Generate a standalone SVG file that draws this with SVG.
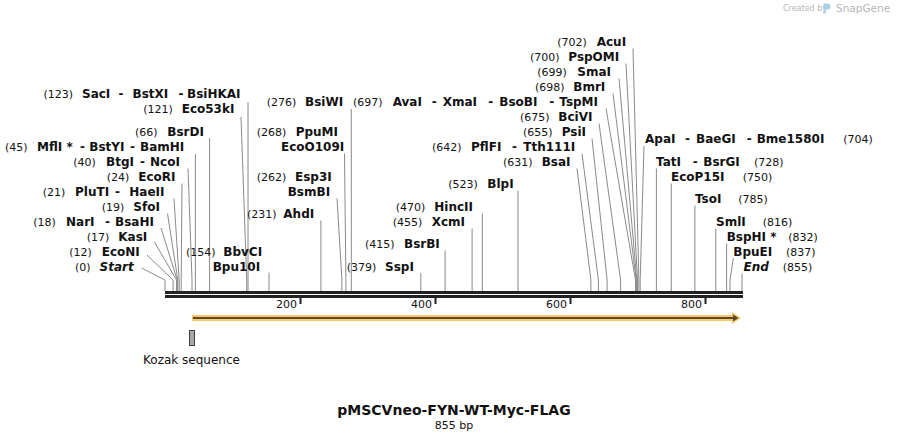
<svg xmlns="http://www.w3.org/2000/svg" width="909" height="441" viewBox="0 0 909 441">
<style>
text{font-family:"DejaVu Sans","Verdana",sans-serif;fill:#111}
.n{font-size:11px;font-weight:normal}
.e{font-size:12px;font-weight:bold}
.ei{font-size:12px;font-weight:bold;font-style:italic}
.c{fill:none;stroke:#8a8a8a;stroke-width:1}
.tk{font-size:11px}
.wm{fill:#b5b5b5}
</style>
<rect width="909" height="441" fill="#fff"/>
<g id="watermark">
<text class="wm" x="783" y="11" font-size="8">Created by</text>
<path d="M823.5,3.5 h4 a3,3 0 0 1 0,6 h-1.5 v4 h-2.5 z" fill="#a9cfe9"/>
<text class="wm" x="836" y="12" font-size="10.5">SnapGene</text>
</g>
<g id="connectors">
<polyline class="c" points="248,102 248,291"/>
<polyline class="c" points="241,117 246.7,280 246.7,291"/>
<polyline class="c" points="209.6,138 209.6,291"/>
<polyline class="c" points="195.4,154 195.4,291"/>
<polyline class="c" points="188,168.5 192,280 192,291"/>
<polyline class="c" points="182,183.5 181.2,280 181.2,291"/>
<polyline class="c" points="174,198.5 179.2,280 179.2,291"/>
<polyline class="c" points="167.5,213.5 177.8,280 177.8,291"/>
<polyline class="c" points="161,228 177.2,280 177.2,291"/>
<polyline class="c" points="154.5,242 176.5,280 176.5,291"/>
<polyline class="c" points="147,255 173.1,280 173.1,291"/>
<polyline class="c" points="141.5,268 165,280 165,291"/>
<polyline class="c" points="269,272.5 269,291"/>
<polyline class="c" points="320.9,220.5 320.9,291"/>
<polyline class="c" points="337,198.5 341.9,280 341.9,291"/>
<polyline class="c" points="344.5,153.5 345.9,280 345.9,291"/>
<polyline class="c" points="351.3,109 351.3,291"/>
<polyline class="c" points="420.8,273 420.8,291"/>
<polyline class="c" points="445.1,250.5 445.1,291"/>
<polyline class="c" points="472.1,228.5 472.1,291"/>
<polyline class="c" points="482.3,213.5 482.3,291"/>
<polyline class="c" points="518,190.5 518,291"/>
<polyline class="c" points="633,48.5 638.9,280 638.9,291"/>
<polyline class="c" points="626,63.5 637.5,280 637.5,291"/>
<polyline class="c" points="619,78.5 636.8,280 636.8,291"/>
<polyline class="c" points="613,93.5 636.2,280 636.2,291"/>
<polyline class="c" points="606,108.5 635.5,280 635.5,291"/>
<polyline class="c" points="599,123.5 620.6,280 620.6,291"/>
<polyline class="c" points="592,138.5 607.1,280 607.1,291"/>
<polyline class="c" points="582,153.5 598.4,280 598.4,291"/>
<polyline class="c" points="577,168.5 590.9,280 590.9,291"/>
<polyline class="c" points="644,146 640.2,280 640.2,291"/>
<polyline class="c" points="656.4,168.5 656.4,291"/>
<polyline class="c" points="671.3,183.5 671.3,291"/>
<polyline class="c" points="694.9,205.5 694.9,291"/>
<polyline class="c" points="715.8,228.5 715.8,291"/>
<polyline class="c" points="726.6,243.5 726.6,291"/>
<polyline class="c" points="733.3,258 730,280 730,291"/>
<polyline class="c" points="742,273.5 742,291"/>
</g>
<g id="sequence">
<rect x="165" y="291" width="578" height="3" fill="#222"/>
<rect x="165" y="295" width="578" height="3" fill="#222"/>
<rect x="299.5" y="298" width="2" height="6" fill="#222"/>
<rect x="434.5" y="298" width="2" height="6" fill="#222"/>
<rect x="569.5" y="298" width="2" height="6" fill="#222"/>
<rect x="704.5" y="298" width="2" height="6" fill="#222"/>
<text class="tk" x="297" y="307.5" text-anchor="end">200</text>
<text class="tk" x="432" y="307.5" text-anchor="end">400</text>
<text class="tk" x="567" y="307.5" text-anchor="end">600</text>
<text class="tk" x="702" y="307.5" text-anchor="end">800</text>
</g>
<g id="feature">
<rect x="192" y="315" width="542" height="6" fill="#f9c86e"/>
<polygon points="732,312 741,318 732,324" fill="#f9c86e"/>
<line x1="193" y1="318" x2="734" y2="318" stroke="#5c4a2a" stroke-width="2"/>
<polygon points="733,314.5 738.5,318 733,321.5" fill="#5c4a2a"/>
</g>
<g id="kozak">
<rect x="189.5" y="330.5" width="5" height="15" fill="#a3a7ab" stroke="#444" stroke-width="1"/>
<text x="191.5" y="364" font-size="12" text-anchor="middle">Kozak sequence</text>
</g>
<g id="SacI"><text y="97.5"><tspan class="n" x="43.5">(123)</tspan><tspan class="e" x="82">SacI</tspan><tspan class="e" x="118.5">-</tspan><tspan class="e" x="132.5">BstXI</tspan><tspan class="e" x="178.5">-</tspan><tspan class="e" x="187">BsiHKAI</tspan></text></g>
<g id="Eco53kI"><text y="112.5"><tspan class="n" x="143.3">(121)</tspan><tspan class="e" x="181.7">Eco53kI</tspan></text></g>
<g id="BsrDI"><text y="135.5"><tspan class="n" x="135">(66)</tspan><tspan class="e" x="167.3">BsrDI</tspan></text></g>
<g id="MflI"><text y="150.5"><tspan class="n" x="5">(45)</tspan><tspan class="e" x="37">MflI *</tspan><tspan class="e" x="80">-</tspan><tspan class="e" x="89.3">BstYI</tspan><tspan class="e" x="130">-</tspan><tspan class="e" x="140">BamHI</tspan></text></g>
<g id="BtgI"><text y="165.5"><tspan class="n" x="73.3">(40)</tspan><tspan class="e" x="106">BtgI</tspan><tspan class="e" x="140">-</tspan><tspan class="e" x="150">NcoI</tspan></text></g>
<g id="EcoRI"><text y="180.5"><tspan class="n" x="106.7">(24)</tspan><tspan class="e" x="138.3">EcoRI</tspan></text></g>
<g id="PluTI"><text y="195.5"><tspan class="n" x="42.7">(21)</tspan><tspan class="e" x="75">PluTI</tspan><tspan class="e" x="115">-</tspan><tspan class="e" x="129.3">HaeII</tspan></text></g>
<g id="SfoI"><text y="210.5"><tspan class="n" x="101.7">(19)</tspan><tspan class="e" x="133.3">SfoI</tspan></text></g>
<g id="NarI"><text y="225.5"><tspan class="n" x="33.3">(18)</tspan><tspan class="e" x="66">NarI</tspan><tspan class="e" x="105">-</tspan><tspan class="e" x="115">BsaHI</tspan></text></g>
<g id="KasI"><text y="240.5"><tspan class="n" x="86.7">(17)</tspan><tspan class="e" x="118.3">KasI</tspan></text></g>
<g id="EcoNI"><text y="255.5"><tspan class="n" x="69.3">(12)</tspan><tspan class="e" x="101.7">EcoNI</tspan></text></g>
<g id="Start"><text y="270.5"><tspan class="n" x="75">(0)</tspan><tspan class="ei" x="99.5">Start</tspan></text></g>
<g id="BbvCI"><text y="255.5"><tspan class="n" x="186">(154)</tspan><tspan class="e" x="223.3">BbvCI</tspan></text><text class="e" x="212.7" y="270.5">Bpu10I</text></g>
<g id="AhdI"><text y="217.5"><tspan class="n" x="247">(231)</tspan><tspan class="e" x="283.3">AhdI</tspan></text></g>
<g id="Esp3I"><text y="180.5"><tspan class="n" x="256.7">(262)</tspan><tspan class="e" x="295">Esp3I</tspan></text><text class="e" x="287.7" y="195.5">BsmBI</text></g>
<g id="PpuMI"><text y="135.5"><tspan class="n" x="256.7">(268)</tspan><tspan class="e" x="295.7">PpuMI</tspan></text><text class="e" x="281" y="150.5">EcoO109I</text></g>
<g id="BsiWI"><text y="105.5"><tspan class="n" x="266.7">(276)</tspan><tspan class="e" x="305">BsiWI</tspan></text></g>
<g id="SspI"><text y="270.5"><tspan class="n" x="346.7">(379)</tspan><tspan class="e" x="385">SspI</tspan></text></g>
<g id="BsrBI"><text y="247.5"><tspan class="n" x="365">(415)</tspan><tspan class="e" x="404">BsrBI</tspan></text></g>
<g id="XcmI"><text y="225.5"><tspan class="n" x="392.7">(455)</tspan><tspan class="e" x="431.7">XcmI</tspan></text></g>
<g id="HincII"><text y="210.5"><tspan class="n" x="395.7">(470)</tspan><tspan class="e" x="434.3">HincII</tspan></text></g>
<g id="BlpI"><text y="187.5"><tspan class="n" x="448.3">(523)</tspan><tspan class="e" x="487.3">BlpI</tspan></text></g>
<g id="AvaI"><text y="105.5"><tspan class="n" x="353">(697)</tspan><tspan class="e" x="392.7">AvaI</tspan><tspan class="e" x="431.7">-</tspan><tspan class="e" x="442.7">XmaI</tspan><tspan class="e" x="488.3">-</tspan><tspan class="e" x="499.3">BsoBI</tspan><tspan class="e" x="549.3">-</tspan><tspan class="e" x="559.3">TspMI</tspan></text></g>
<g id="AcuI"><text y="45.5"><tspan class="n" x="557.3">(702)</tspan><tspan class="e" x="596.7">AcuI</tspan></text></g>
<g id="PspOMI"><text y="60.5"><tspan class="n" x="530">(700)</tspan><tspan class="e" x="568.3">PspOMI</tspan></text></g>
<g id="SmaI"><text y="75.5"><tspan class="n" x="537.3">(699)</tspan><tspan class="e" x="577.3">SmaI</tspan></text></g>
<g id="BmrI"><text y="90.5"><tspan class="n" x="535">(698)</tspan><tspan class="e" x="573.3">BmrI</tspan></text></g>
<g id="BciVI"><text y="120.5"><tspan class="n" x="520">(675)</tspan><tspan class="e" x="558.3">BciVI</tspan></text></g>
<g id="PsiI"><text y="135.5"><tspan class="n" x="523">(655)</tspan><tspan class="e" x="561.7">PsiI</tspan></text></g>
<g id="PflFI"><text y="150.5"><tspan class="n" x="432">(642)</tspan><tspan class="e" x="471">PflFI</tspan><tspan class="e" x="512">-</tspan><tspan class="e" x="523.3">Tth111I</tspan></text></g>
<g id="BsaI"><text y="165.5"><tspan class="n" x="503">(631)</tspan><tspan class="e" x="541.7">BsaI</tspan></text></g>
<g id="ApaI"><text y="142.5"><tspan class="e" x="645">ApaI</tspan><tspan class="e" x="685">-</tspan><tspan class="e" x="696">BaeGI</tspan><tspan class="e" x="746.7">-</tspan><tspan class="e" x="756.7">Bme1580I</tspan><tspan class="n" x="843.3">(704)</tspan></text></g>
<g id="TatI"><text y="165.5"><tspan class="e" x="656">TatI</tspan><tspan class="e" x="692.7">-</tspan><tspan class="e" x="703.3">BsrGI</tspan><tspan class="n" x="754">(728)</tspan></text></g>
<g id="EcoP15I"><text y="180.5"><tspan class="e" x="671">EcoP15I</tspan><tspan class="n" x="742.7">(750)</tspan></text></g>
<g id="TsoI"><text y="202.5"><tspan class="e" x="695">TsoI</tspan><tspan class="n" x="738.3">(785)</tspan></text></g>
<g id="SmlI"><text y="225.5"><tspan class="e" x="716">SmlI</tspan><tspan class="n" x="762.7">(816)</tspan></text></g>
<g id="BspHI"><text y="240.5"><tspan class="e" x="726.7">BspHI *</tspan><tspan class="n" x="788.3">(832)</tspan></text></g>
<g id="BpuEI"><text y="255.5"><tspan class="e" x="733.3">BpuEI</tspan><tspan class="n" x="786">(837)</tspan></text></g>
<g id="End"><text y="270.5"><tspan class="ei" x="743.5">End</tspan><tspan class="n" x="782.7">(855)</tspan></text></g>
<g id="title">
<text x="454" y="415" font-size="14" font-weight="bold" text-anchor="middle">pMSCVneo-FYN-WT-Myc-FLAG</text>
<text x="454" y="429" font-size="11" text-anchor="middle">855 bp</text>
</g>
</svg>
